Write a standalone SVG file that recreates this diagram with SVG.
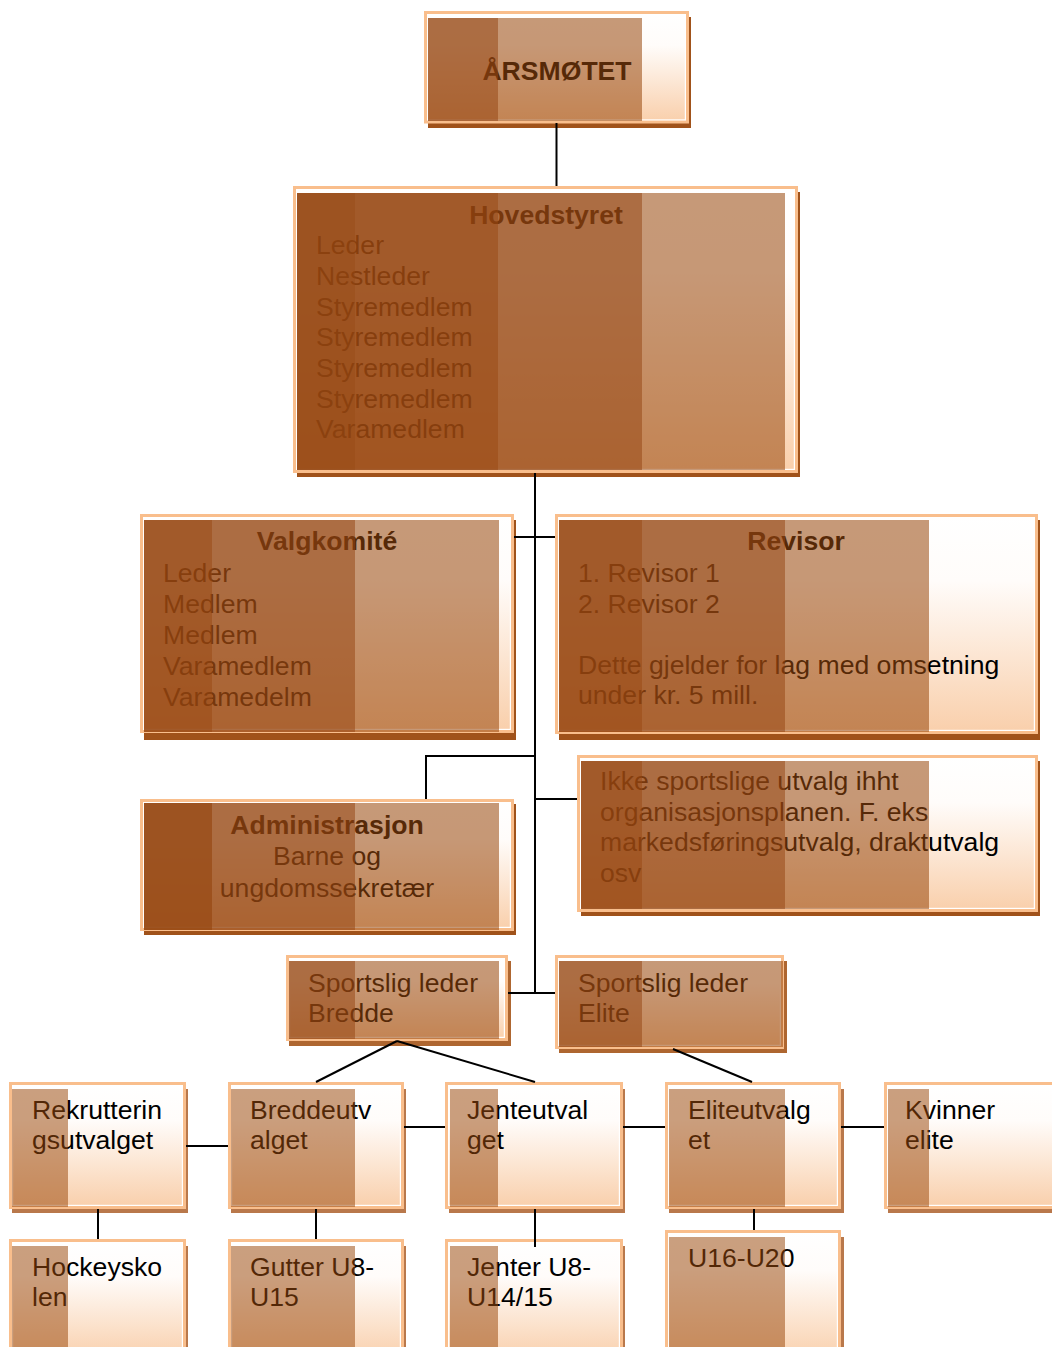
<svg xmlns="http://www.w3.org/2000/svg" width="1052" height="1347" viewBox="0 0 1052 1347">
<defs>
<linearGradient id="g" x1="0" y1="0" x2="0" y2="1">
<stop offset="0" stop-color="#FFFFFF"/>
<stop offset="0.3" stop-color="#FFFCFA"/>
<stop offset="1" stop-color="#F9CFAB"/>
</linearGradient>
</defs>
<style>
.box{fill:url(#g);stroke:#F9BE8C;stroke-width:3}
.in{fill:none;stroke:#FFFFFF;stroke-width:1.2}
.sd{fill:#A0521A}
.sm{fill:#AE6630}
.sl{fill:#B9784B}
.l1{fill:#964610;fill-opacity:0.93}
.l2{fill:#964610;fill-opacity:0.89}
.l3{fill:#964610;fill-opacity:0.79}
.l4{fill:#9A4A0E;fill-opacity:0.56}
.l5{fill:#9A4A0E;fill-opacity:0.53}
text{font-family:"Liberation Sans",Arial,sans-serif;font-size:26.6px;fill:#000}
.b{font-weight:bold}
.c{text-anchor:middle}
.ln{fill:none;stroke:#000;stroke-width:2}
</style>

<g id="arsmotet">
<rect class="sd" x="428" y="17" width="263" height="111"/>
<rect class="box" x="425.5" y="12.5" width="262" height="109.5"/>
<rect class="in" x="427.6" y="14.6" width="257.8" height="105.3"/>
<text class="b c" x="557" y="80">ÅRSMØTET</text>
<rect class="l3" x="428" y="18" width="70" height="103"/>
<rect class="l4" x="498" y="18" width="144" height="103"/>
</g>

<g id="hovedstyret">
<rect class="sd" x="297" y="192" width="503" height="285"/>
<rect class="box" x="294.5" y="187.5" width="502" height="284"/>
<rect class="in" x="296.6" y="189.6" width="497.8" height="279.8"/>
<text class="b c" x="546" y="224">Hovedstyret</text>
<text x="316" y="254">Leder</text>
<text x="316" y="285">Nestleder</text>
<text x="316" y="316">Styremedlem</text>
<text x="316" y="346">Styremedlem</text>
<text x="316" y="377">Styremedlem</text>
<text x="316" y="408">Styremedlem</text>
<text x="316" y="438">Varamedlem</text>
<rect class="l1" x="297" y="193" width="58" height="277"/>
<rect class="l2" x="355" y="193" width="143" height="277"/>
<rect class="l3" x="498" y="193" width="144" height="277"/>
<rect class="l4" x="642" y="193" width="143" height="277"/>
</g>

<g id="valgkomite">
<rect class="sd" x="144" y="520" width="372" height="220"/>
<rect class="box" x="141.5" y="515.5" width="371" height="216"/>
<rect class="in" x="143.6" y="517.6" width="366.8" height="211.8"/>
<text class="b c" x="327" y="550">Valgkomité</text>
<text x="163" y="582">Leder</text>
<text x="163" y="613">Medlem</text>
<text x="163" y="644">Medlem</text>
<text x="163" y="675">Varamedlem</text>
<text x="163" y="706">Varamedelm</text>
<rect class="l2" x="144" y="520" width="68" height="212"/>
<rect class="l3" x="212" y="520" width="143" height="212"/>
<rect class="l4" x="355" y="520" width="144" height="212"/>
</g>

<g id="revisor">
<rect class="sd" x="559" y="520" width="481" height="220"/>
<rect class="box" x="556.5" y="515.5" width="480" height="217"/>
<rect class="in" x="558.6" y="517.6" width="475.8" height="212.8"/>
<text class="b c" x="796" y="550">Revisor</text>
<text x="578" y="582">1. Revisor 1</text>
<text x="578" y="613">2. Revisor 2</text>
<text x="578" y="674">Dette gjelder for lag med omsetning</text>
<text x="578" y="704">under kr. 5 mill.</text>
<rect class="l2" x="559" y="520" width="83" height="212"/>
<rect class="l3" x="642" y="520" width="143" height="212"/>
<rect class="l4" x="785" y="520" width="144" height="212"/>
</g>

<g id="administrasjon">
<rect class="sd" x="144" y="804" width="372" height="131"/>
<rect class="box" x="141.5" y="800.5" width="371" height="129"/>
<rect class="in" x="143.6" y="802.6" width="366.8" height="124.8"/>
<text class="b c" x="327" y="834">Administrasjon</text>
<text class="c" x="327" y="865">Barne og</text>
<text class="c" x="327" y="897">ungdomssekretær</text>
<rect class="l1" x="144" y="803" width="68" height="127"/>
<rect class="l3" x="212" y="803" width="143" height="127"/>
<rect class="l4" x="355" y="803" width="144" height="127"/>
</g>

<g id="ikke-sportslige">
<rect class="sd" x="581" y="761" width="459" height="155"/>
<rect class="box" x="578.5" y="756.5" width="458" height="154"/>
<rect class="in" x="580.6" y="758.6" width="453.8" height="149.8"/>
<text x="600" y="790">Ikke sportslige utvalg ihht</text>
<text x="600" y="821">organisasjonsplanen. F. eks</text>
<text x="600" y="851">markedsføringsutvalg, draktutvalg</text>
<text x="600" y="882">osv</text>
<rect class="l2" x="581" y="761" width="61" height="148"/>
<rect class="l3" x="642" y="761" width="143" height="148"/>
<rect class="l4" x="785" y="761" width="144" height="148"/>
</g>

<g id="sportslig-bredde">
<rect class="sm" x="289" y="961" width="222" height="85"/>
<rect class="box" x="287.5" y="956.5" width="219" height="83"/>
<rect class="in" x="289.6" y="958.6" width="214.8" height="78.8"/>
<text x="308" y="992">Sportslig leder</text>
<text x="308" y="1022">Bredde</text>
<rect class="l3" x="289" y="961" width="66" height="78"/>
<rect class="l4" x="355" y="961" width="144" height="78"/>
</g>

<g id="sportslig-elite">
<rect class="sm" x="559" y="961" width="228" height="92"/>
<rect class="box" x="556.5" y="956.5" width="226" height="91"/>
<rect class="in" x="558.6" y="958.6" width="221.8" height="86.8"/>
<text x="578" y="992">Sportslig leder</text>
<text x="578" y="1022">Elite</text>
<rect class="l3" x="559" y="961" width="83" height="86"/>
<rect class="l4" x="642" y="961" width="141" height="86"/>
</g>

<g id="rekruttering">
<rect class="sl" x="12" y="1089" width="176" height="124"/>
<rect class="box" x="10.5" y="1083.5" width="174" height="124"/>
<rect class="in" x="12.6" y="1085.6" width="169.8" height="119.8"/>
<text x="32" y="1119">Rekrutterin</text>
<text x="32" y="1149">gsutvalget</text>
<rect class="l5" x="12" y="1089" width="56" height="118"/>
</g>

<g id="breddeutvalget">
<rect class="sl" x="231" y="1089" width="175" height="124"/>
<rect class="box" x="229.5" y="1083.5" width="173" height="124"/>
<rect class="in" x="231.6" y="1085.6" width="168.8" height="119.8"/>
<text x="250" y="1119">Breddeutv</text>
<text x="250" y="1149">alget</text>
<rect class="l5" x="231" y="1089" width="124" height="118"/>
</g>

<g id="jenteutvalget">
<rect class="sl" x="449" y="1089" width="176" height="124"/>
<rect class="box" x="446.5" y="1083.5" width="175" height="124"/>
<rect class="in" x="448.6" y="1085.6" width="170.8" height="119.8"/>
<text x="467" y="1119">Jenteutval</text>
<text x="467" y="1149">get</text>
<rect class="l5" x="450" y="1089" width="48" height="118"/>
</g>

<g id="eliteutvalget">
<rect class="sl" x="669" y="1089" width="175" height="124"/>
<rect class="box" x="666.5" y="1083.5" width="173" height="124"/>
<rect class="in" x="668.6" y="1085.6" width="168.8" height="119.8"/>
<text x="688" y="1119">Eliteutvalg</text>
<text x="688" y="1149">et</text>
<rect class="l5" x="669" y="1089" width="116" height="118"/>
</g>

<g id="kvinner-elite">
<rect class="sl" x="888" y="1089" width="176" height="124"/>
<rect class="box" x="885.5" y="1083.5" width="175" height="124"/>
<rect class="in" x="887.6" y="1085.6" width="170.8" height="119.8"/>
<text x="905" y="1119">Kvinner</text>
<text x="905" y="1149">elite</text>
<rect class="l5" x="888" y="1089" width="41" height="118"/>
</g>

<g id="hockeyskolen">
<rect class="sl" x="12" y="1246" width="176" height="120"/>
<rect class="box" x="10.5" y="1240.5" width="174" height="120"/>
<rect class="in" x="12.6" y="1242.6" width="169.8" height="116"/>
<text x="32" y="1276">Hockeysko</text>
<text x="32" y="1306">len</text>
<rect class="l5" x="12" y="1246" width="56" height="110"/>
</g>

<g id="gutter">
<rect class="sl" x="231" y="1246" width="175" height="120"/>
<rect class="box" x="229.5" y="1240.5" width="173" height="120"/>
<rect class="in" x="231.6" y="1242.6" width="168.8" height="116"/>
<text x="250" y="1276">Gutter U8-</text>
<text x="250" y="1306">U15</text>
<rect class="l5" x="231" y="1246" width="124" height="110"/>
</g>

<g id="jenter">
<rect class="sl" x="449" y="1246" width="176" height="120"/>
<rect class="box" x="446.5" y="1240.5" width="175" height="120"/>
<rect class="in" x="448.6" y="1242.6" width="170.8" height="116"/>
<text x="467" y="1276">Jenter U8-</text>
<text x="467" y="1306">U14/15</text>
<rect class="l5" x="450" y="1246" width="48" height="110"/>
</g>

<g id="u16-u20">
<rect class="sl" x="669" y="1237" width="175" height="130"/>
<rect class="box" x="666.5" y="1231.5" width="173" height="130"/>
<rect class="in" x="668.6" y="1233.6" width="168.8" height="126"/>
<text x="688" y="1267">U16-U20</text>
<rect class="l5" x="669" y="1237" width="116" height="120"/>
</g>

<g id="connectors">
<path class="ln" d="M556.5 123 V186"/>
<path class="ln" d="M535 473 V993"/>
<path class="ln" d="M514 537 H555"/>
<path class="ln" d="M535 756 H426 V799"/>
<path class="ln" d="M535 799 H577"/>
<path class="ln" d="M508 993 H555"/>
<path class="ln" d="M397 1041 L316 1082"/>
<path class="ln" d="M397 1041 L535 1082"/>
<path class="ln" d="M673 1049 L752 1082"/>
<path class="ln" d="M186 1146 H228"/>
<path class="ln" d="M404 1127 H445"/>
<path class="ln" d="M623 1127 H665"/>
<path class="ln" d="M841 1127 H884"/>
<path class="ln" d="M98 1209 V1239"/>
<path class="ln" d="M316 1209 V1239"/>
<path class="ln" d="M535 1209 V1247"/>
<path class="ln" d="M754 1209 V1230"/>
</g>
</svg>
